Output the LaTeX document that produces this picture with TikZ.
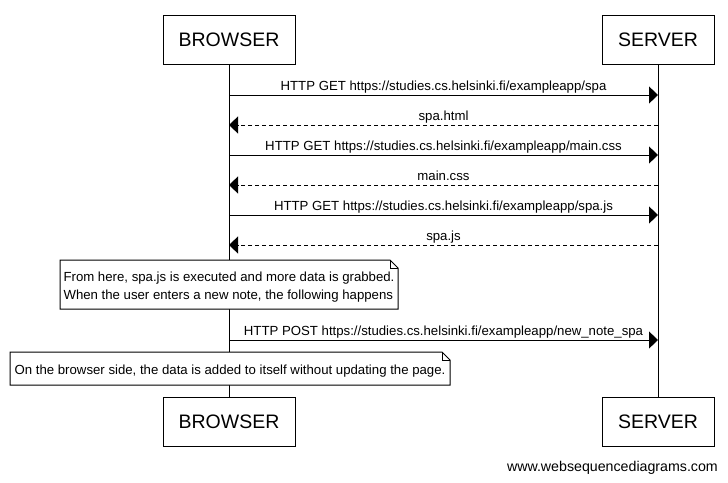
\documentclass[tikz,border=0pt]{standalone}
\usepackage{fontspec}
\setmainfont{Liberation Sans}
\usetikzlibrary{arrows.meta}
\definecolor{notefill}{RGB}{255, 255, 255}

\tikzset{
    actor/.style={draw, line width=1pt, fill=white, font=\fontsize{19.5}{22}\selectfont, inner sep=0pt},
    msg/.style={line width=1pt, -{Triangle[length=9pt,width=17pt]}},
    reply/.style={msg, dash pattern=on 4pt off 3pt},
    msglabel/.style={font=\fontsize{13.2}{15}\selectfont, text height=9.5pt, text depth=3pt, inner sep=1pt, above},
    notetext/.style={font=\fontsize{13.2}{16.5}\selectfont, align=left, inner sep=0pt}
}

\begin{document}
\begin{tikzpicture}[x=1pt, y=-1pt]
            \useasboundingbox (0,0) rectangle (728,482);

            % Actor boxes
            \node[actor, minimum width=132pt, minimum height=49pt] (browser) at (229,39.5) {BROWSER};
            \node[actor, minimum width=112pt, minimum height=49pt] (server) at (658,39.5) {SERVER};
            \node[actor, minimum width=132pt, minimum height=49pt] (browserb) at (229,421.5) {BROWSER};
            \node[actor, minimum width=112pt, minimum height=49pt] (serverb) at (658,421.5) {SERVER};

            % Lifelines
            \draw[line width=1pt] (browser.south) -- (browserb.north);
            \draw[line width=1pt] (server.south) -- (serverb.north);

            % Points on the lifelines
            \foreach \i/\y in {1/95, 2/125, 3/155, 4/185, 5/215, 6/245, 7/340} {
                \coordinate (b\i) at (229,\y);
                \coordinate (s\i) at (658,\y);
            }

            % Messages
            \draw[msg] (b1) -- (s1) node[msglabel, midway] {HTTP GET https://studies.cs.helsinki.fi/exampleapp/spa};
            \draw[reply] (s2) -- (b2) node[msglabel, midway] {spa.html};
            \draw[msg] (b3) -- (s3) node[msglabel, midway] {HTTP GET https://studies.cs.helsinki.fi/exampleapp/main.css};
            \draw[reply] (s4) -- (b4) node[msglabel, midway] {main.css};
            \draw[msg] (b5) -- (s5) node[msglabel, midway] {HTTP GET https://studies.cs.helsinki.fi/exampleapp/spa.js};
            \draw[reply] (s6) -- (b6) node[msglabel, midway] {spa.js};

            % Note 1
            \draw[line width=1pt, fill=notefill] (60,260) -- (390,260) -- (398,268) -- (398,309) -- (60,309) -- cycle;
            \draw[line width=1pt] (390,260) -- (390,268) -- (398,268);
            \node[notetext] (note1) at (229,287) {From here, spa.js is executed and more data is grabbed.\\[2pt]When the user enters a new note, the following happens};

            \draw[msg] (b7) -- (s7) node[msglabel, midway] {HTTP POST https://studies.cs.helsinki.fi/exampleapp/new\_note\_spa};

            % Note 2
            \draw[line width=1pt, fill=notefill] (10,352) -- (442,352) -- (450,360) -- (450,385) -- (10,385) -- cycle;
            \draw[line width=1pt] (442,352) -- (442,360) -- (450,360);
            \node[notetext] (note2) at (230,371) {On the browser side, the data is added to itself without updating the page.};

            % Footer
            \node[font=\fontsize{14.2}{16}\selectfont, anchor=base east, inner sep=0pt] (footer) at (718,471) {www.websequencediagrams.com};
        \end{tikzpicture}
\end{document}
